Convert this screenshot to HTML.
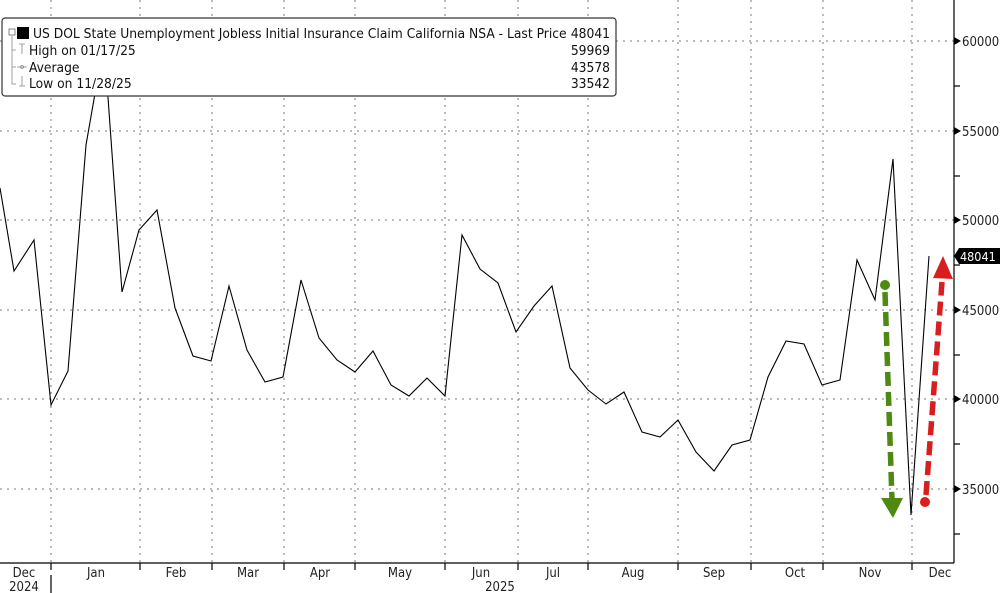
<!DOCTYPE html>
<html><head><style>
body{margin:0;background:#fff;}
svg{display:block;font-family:"DejaVu Sans Condensed","Liberation Sans Narrow","Liberation Sans",sans-serif;}
</style></head><body>
<svg width="1000" height="593" viewBox="0 0 1000 593">
<g stroke="#777" stroke-width="1" stroke-dasharray="2,5">
<line x1="0" y1="41" x2="954" y2="41"/><line x1="0" y1="131" x2="954" y2="131"/><line x1="0" y1="220" x2="954" y2="220"/><line x1="0" y1="310" x2="954" y2="310"/><line x1="0" y1="399" x2="954" y2="399"/><line x1="0" y1="489" x2="954" y2="489"/>
<line x1="51" y1="0" x2="51" y2="563"/><line x1="140" y1="0" x2="140" y2="563"/><line x1="212" y1="0" x2="212" y2="563"/><line x1="284" y1="0" x2="284" y2="563"/><line x1="355" y1="0" x2="355" y2="563"/><line x1="445" y1="0" x2="445" y2="563"/><line x1="518" y1="0" x2="518" y2="563"/><line x1="588" y1="0" x2="588" y2="563"/><line x1="678" y1="0" x2="678" y2="563"/><line x1="751" y1="0" x2="751" y2="563"/><line x1="823" y1="0" x2="823" y2="563"/><line x1="912" y1="0" x2="912" y2="563"/>
</g>
<g stroke="#000" stroke-width="1.2">
<line x1="954" y1="0" x2="954" y2="563"/><line x1="0" y1="563" x2="954" y2="563"/>
<line x1="51" y1="563" x2="51" y2="570"/><line x1="140" y1="563" x2="140" y2="570"/><line x1="212" y1="563" x2="212" y2="570"/><line x1="284" y1="563" x2="284" y2="570"/><line x1="355" y1="563" x2="355" y2="570"/><line x1="445" y1="563" x2="445" y2="570"/><line x1="518" y1="563" x2="518" y2="570"/><line x1="588" y1="563" x2="588" y2="570"/><line x1="678" y1="563" x2="678" y2="570"/><line x1="751" y1="563" x2="751" y2="570"/><line x1="823" y1="563" x2="823" y2="570"/><line x1="912" y1="563" x2="912" y2="570"/>
<line x1="51" y1="575" x2="51" y2="593"/>
<line x1="954" y1="86" x2="960" y2="86"/><line x1="954" y1="176" x2="960" y2="176"/><line x1="954" y1="265" x2="960" y2="265"/><line x1="954" y1="355" x2="960" y2="355"/><line x1="954" y1="444" x2="960" y2="444"/><line x1="954" y1="534" x2="960" y2="534"/>
</g>
<g fill="#000"><path d="M954 37l7 4-7 4z"/><path d="M954 127l7 4-7 4z"/><path d="M954 216l7 4-7 4z"/><path d="M954 306l7 4-7 4z"/><path d="M954 395l7 4-7 4z"/><path d="M954 485l7 4-7 4z"/></g>
<g font-size="13" fill="#222">
<text x="962" y="46">60000</text><text x="962" y="136">55000</text><text x="962" y="225">50000</text><text x="962" y="315">45000</text><text x="962" y="404">40000</text><text x="962" y="494">35000</text>
</g>
<path d="M954 256l5-8h41v16h-41z" fill="#000"/>
<text x="960" y="261" font-size="12.5" fill="#fff">48041</text>
<g font-size="13" fill="#222" text-anchor="middle">
<text x="24" y="577">Dec</text><text x="24" y="591">2024</text><text x="96" y="577">Jan</text><text x="176" y="577">Feb</text><text x="248" y="577">Mar</text><text x="320" y="577">Apr</text><text x="400" y="577">May</text><text x="481" y="577">Jun</text><text x="500" y="591">2025</text><text x="553" y="577">Jul</text><text x="633" y="577">Aug</text><text x="714" y="577">Sep</text><text x="795" y="577">Oct</text><text x="870" y="577">Nov</text><text x="940" y="577">Dec</text>
</g>
<polyline fill="none" stroke="#000" stroke-width="1.1" points="0,188 14,271 34,240 51,405 68,371 86,145 104,42 122,292 139,230 157,210 175,308 193,356 211,361 229,286 247,350 265,382 283,377 301,280 319,338 337,360 355,372 373,351 391,385 409,396 427,378 445,396 462,235 480,269 498,283 516,332 534,306 552,286 570,368 588,390 606,404 624,392 642,432 660,437 678,420 696,452 714,471 732,445 750,440 768,377 786,341 804,344 822,385 840,380 857,260 875,300 893,159 911,515 929,256"/>
<line x1="885" y1="292" x2="892" y2="500" stroke="#4e8a12" stroke-width="5.5" stroke-dasharray="14,6"/>
<circle cx="885" cy="285" r="5" fill="#4e8a12"/>
<path d="M881 498l22 0-10 20z" fill="#4e8a12"/>
<line x1="926" y1="495" x2="942" y2="282" stroke="#d81e1e" stroke-width="5.5" stroke-dasharray="14,6"/>
<circle cx="925" cy="502" r="5" fill="#d81e1e"/>
<path d="M943 256l-10 22 20 1z" fill="#d81e1e"/>
<rect x="2" y="18" width="614" height="78" rx="3" fill="#fff" stroke="#333" stroke-width="1.2"/>
<g font-size="13.7" fill="#111">
<rect x="9" y="29" width="6" height="6" fill="none" stroke="#666" stroke-width="0.8"/>
<rect x="17" y="27" width="12" height="12" fill="#000"/>
<text x="33" y="38">US DOL State Unemployment Jobless Initial Insurance Claim California NSA - Last Price</text><text x="610" y="38" text-anchor="end">48041</text>
<text x="29" y="55">High on 01/17/25</text><text x="610" y="55" text-anchor="end">59969</text>
<text x="29" y="72">Average</text><text x="610" y="72" text-anchor="end">43578</text>
<text x="29" y="88">Low on 11/28/25</text><text x="610" y="88" text-anchor="end">33542</text>
</g>
<g stroke="#888" stroke-width="0.8" fill="none">
<path d="M12 36v48h4M12 50h4M12 67h4"/>
<path d="M19 44h6M22 44v10"/><path d="M17 67h10"/><circle cx="22" cy="67" r="1.5"/><path d="M22 76v10M19 86h6"/>
</g>
</svg>
</body></html>
